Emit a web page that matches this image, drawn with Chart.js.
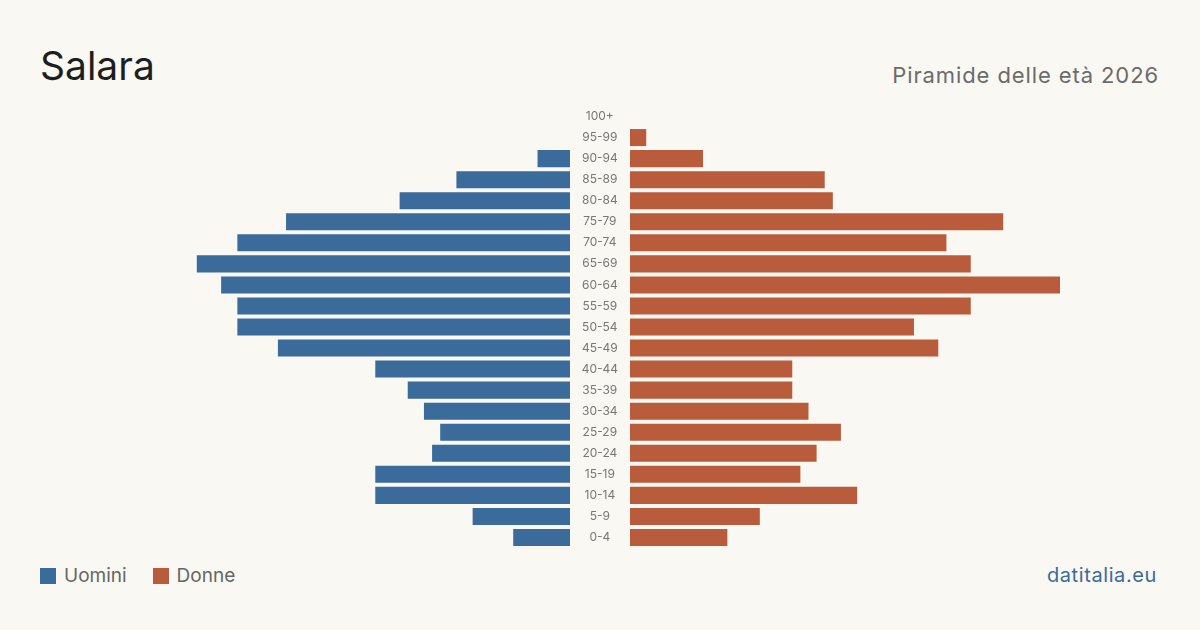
<!DOCTYPE html>
<html>
<head>
<meta charset="utf-8">
<script src="https://cdn.jsdelivr.net/npm/chart.js@4"></script>
<style>
body{margin:0;background:#f9f8f3;font-family:Inter,"Noto Sans",sans-serif;}
#page{position:relative;width:1200px;height:630px;overflow:hidden;}
h1{position:absolute;left:40px;top:42px;margin:0;font-size:39px;font-weight:400;color:#1e1e1e;}
#sub{position:absolute;right:41px;top:62px;font-size:22px;letter-spacing:0.9px;color:#6b6b6b;}
#left{position:absolute;left:140px;top:106px;width:430px;height:442px;}
#right{position:absolute;left:570px;top:106px;width:490px;height:442px;}
#legend{position:absolute;left:40px;top:564px;font-size:19px;color:#666;}
#legend span.sw{display:inline-block;width:16px;height:16px;vertical-align:-2px;margin-right:8px;}
#legend span.it{margin-right:26px;}
#src{position:absolute;right:43px;top:563px;font-size:20px;letter-spacing:0.6px;color:#3a6b9b;}
</style>
</head>
<body>
<div id="page">
<h1>Salara</h1>
<div id="sub">Piramide delle età 2026</div>
<div id="left"><canvas id="grafUomini"></canvas></div>
<div id="right"><canvas id="grafDonne"></canvas></div>
<div id="legend"></div>
<div id="src">datitalia.eu</div>
</div>
<script>
const fasce=["0-4","5-9","10-14","15-19","20-24","25-29","30-34","35-39","40-44","45-49","50-54","55-59","60-64","65-69","70-74","75-79","80-84","85-89","90-94","95-99","100+"];
const uomini=[7,12,24,24,17,16,18,20,24,36,41,41,43,46,41,35,21,14,4,0,0];
const donne=[12,16,28,21,23,26,22,20,20,38,35,42,53,42,39,46,25,24,9,2,0];
const colUomini="#3a6b9b";
const colDonne="#b95c3c";
const maxVal=53;

Chart.defaults.font.family="Inter, 'Noto Sans', sans-serif";
Chart.defaults.animation=false;
Chart.defaults.responsive=true;
Chart.defaults.maintainAspectRatio=false;

const comune={
indexAxis:"y",
layout:{padding:0},
plugins:{legend:{display:false},tooltip:{enabled:false}}
};

new Chart(document.getElementById("grafUomini"),{
type:"bar",
data:{labels:fasce,datasets:[{label:"Uomini",data:uomini,backgroundColor:colUomini,categoryPercentage:1,barPercentage:0.81}]},
options:{...comune,
scales:{
x:{display:false,reverse:true,min:0,max:maxVal},
y:{display:false,reverse:true}
}}
});

new Chart(document.getElementById("grafDonne"),{
type:"bar",
data:{labels:fasce,datasets:[{label:"Donne",data:donne,backgroundColor:colDonne,categoryPercentage:1,barPercentage:0.81}]},
options:{...comune,
scales:{
x:{display:false,min:0,max:maxVal},
y:{reverse:true,position:"left",
grid:{display:false},border:{display:false},
ticks:{crossAlign:"center",padding:4,color:"#777",font:{size:12}},
afterFit:s=>{s.width=60;s.paddingTop=0;s.paddingBottom=0;}}
}}
});

const leg=document.getElementById("legend");
[["Uomini",colUomini],["Donne",colDonne]].forEach(([t,c])=>{
leg.innerHTML+=`<span class="sw" style="background:${c}"></span><span class="it">${t}</span>`;
});
</script>
</body>
</html>
